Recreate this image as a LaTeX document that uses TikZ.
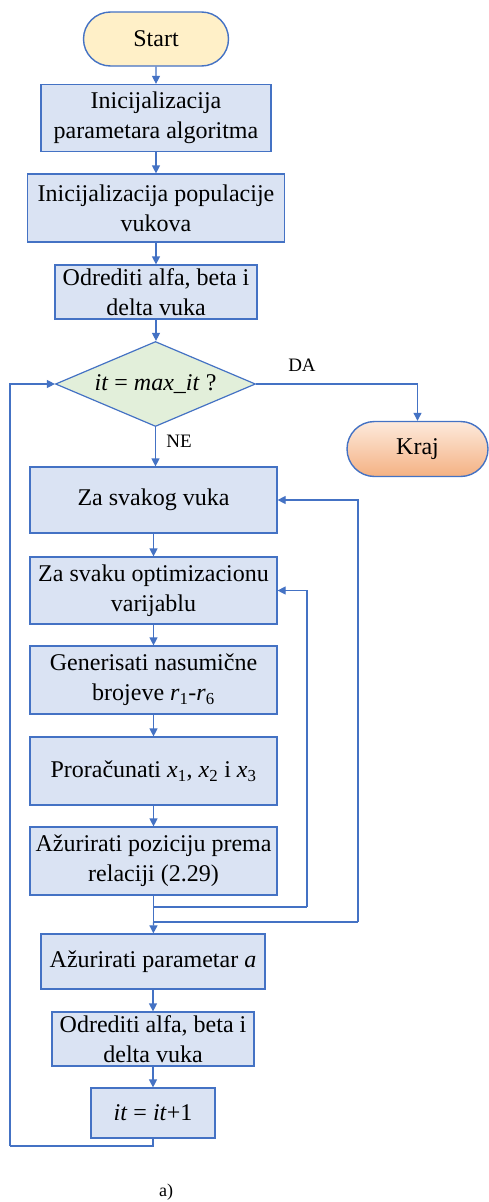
\documentclass[tikz,border=0pt]{standalone}
\usepackage{fontspec}
\setmainfont{Liberation Serif}
\usetikzlibrary{shapes.misc,shapes.geometric,arrows.meta}
\definecolor{lineblue}{HTML}{4472C4}
\definecolor{boxfill}{HTML}{DAE3F3}
\definecolor{startfill}{HTML}{FFF0C8}
\definecolor{decfill}{HTML}{E2EFDA}
\definecolor{endtop}{HTML}{FDEADC}
\definecolor{endbot}{HTML}{F4B183}
\tikzset{
  every node/.style={font=\fontsize{24}{30}\selectfont, text=black},
  procbox/.style={draw=lineblue, fill=boxfill, line width=1.2pt, rectangle, align=center, inner sep=0pt},
  termbox/.style={draw=lineblue, line width=1.4pt, rounded rectangle, align=center, inner sep=0pt},
  decbox/.style={draw=lineblue, fill=decfill, line width=1.2pt, diamond, aspect=2.35, inner sep=0pt, minimum width=200pt, minimum height=85pt},
  conn/.style={draw=lineblue, line width=1.2pt, -{Triangle[length=8pt,width=8pt]}},
  plain/.style={draw=lineblue, line width=1.2pt},
  lbl/.style={font=\fontsize{19}{22}\selectfont}
}
\begin{document}
\begin{tikzpicture}[x=1pt,y=-1pt]
\useasboundingbox (0,0) rectangle (489,1202);
\fill[white] (0,0) rectangle (489,1202);

\node[termbox, fill=startfill, minimum width=145pt, minimum height=54pt] (start) at (156,39) {Start};
\node[procbox, minimum width=230pt, minimum height=67pt] (b1) at (156,118) {Inicijalizacija\\parametara algoritma};
\node[procbox, minimum width=257pt, minimum height=68pt] (b2) at (156,208) {Inicijalizacija populacije\\vukova};
\node[procbox, minimum width=202pt, minimum height=54pt] (b3) at (156,292) {Odrediti alfa, beta i\\delta vuka};
\node[decbox] (dec) at (155.5,384) {\textit{it} = \textit{max\_it} ?};
\node[termbox, top color=endtop, bottom color=endbot, minimum width=141pt, minimum height=55pt] (kraj) at (417.5,449) {Kraj};

\node[procbox, minimum width=247pt, minimum height=66pt] (z1) at (153.5,500) {Za svakog vuka};
\node[procbox, minimum width=247pt, minimum height=67pt] (z2) at (153.5,590.5) {Za svaku optimizacionu\\varijablu};
\node[procbox, minimum width=247pt, minimum height=68pt] (g) at (153.5,680) {Generisati nasumične\\brojeve \textit{r}\textsubscript{1}-\textit{r}\textsubscript{6}};
\node[procbox, minimum width=247pt, minimum height=68pt] (p) at (153.5,771) {Proračunati \textit{x}\textsubscript{1}, \textit{x}\textsubscript{2} i \textit{x}\textsubscript{3}};
\node[procbox, minimum width=247pt, minimum height=68pt] (a) at (153.5,861) {Ažurirati poziciju prema\\relaciji (2.29)};
\node[procbox, minimum width=224pt, minimum height=55pt] (ap) at (153,961.5) {Ažurirati parametar \textit{a}};
\node[procbox, minimum width=202pt, minimum height=54pt] (o2) at (153,1039) {Odrediti alfa, beta i\\delta vuka};
\node[procbox, minimum width=124pt, minimum height=50pt] (inc) at (153,1113) {\textit{it} = \textit{it}+1};

\node[lbl] (da) at (302,365) {DA};
\node[lbl] (ne) at (179,441) {NE};
\node[font=\fontsize{18}{20}\selectfont\rmfamily] (cap) at (166,1192) {a)};

\coordinate (j1) at (153.5,907);
\coordinate (j2) at (153.5,922);
\coordinate (r1) at (307,907);
\coordinate (r2) at (358,922);
\coordinate (l1) at (153,1146);
\coordinate (l2) at (10,1146);

\draw[conn] (start) -- (b1);
\draw[conn] (b1) -- (b2);
\draw[conn] (b2) -- (b3);
\draw[conn] (b3.south) -- (b3.south |- dec.north);
\draw[conn] (dec.east) -| (kraj.north);
\draw[conn] (dec.south) -- (dec.south |- z1.north);
\draw[conn] (z1) -- (z2);
\draw[conn] (z2) -- (g);
\draw[conn] (g) -- (p);
\draw[conn] (p) -- (a);
\draw[plain] (a.south) -- (j1) -- (r1);
\draw[conn] (r1) |- (z2.east);
\draw[plain] (j1) -- (j2) -- (r2);
\draw[conn] (r2) |- (z1.east);
\draw[conn] (j2) -- (ap);
\draw[conn] (ap) -- (o2);
\draw[conn] (o2) -- (inc);
\draw[plain] (inc.south) -- (l1) -- (l2);
\draw[conn] (l2) |- (dec.west);
\end{tikzpicture}
\end{document}
